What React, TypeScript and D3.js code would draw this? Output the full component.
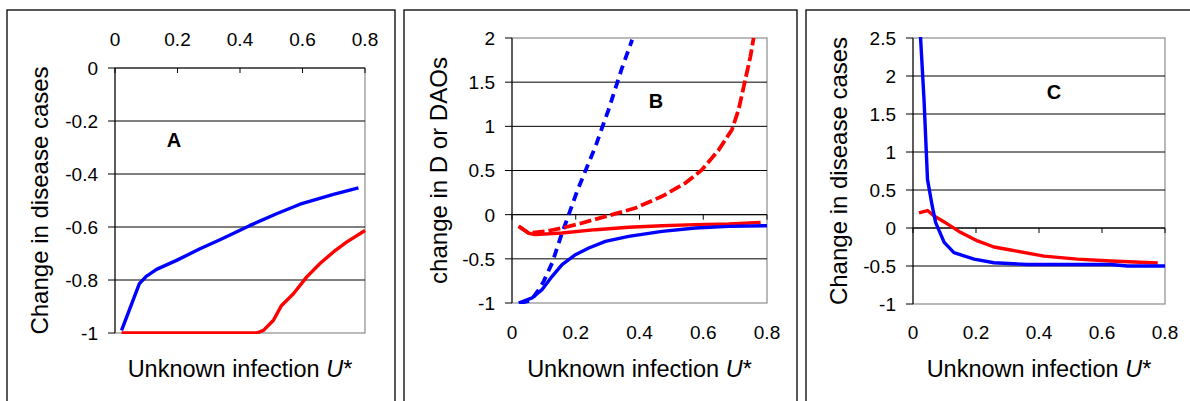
import React from "react"
import * as d3 from "d3"

// panel A: change in disease cases vs unknown infection
const aBlueX = [0.021, 0.078, 0.1, 0.133, 0.197, 0.272, 0.336, 0.432, 0.517, 0.592, 0.699, 0.779]
const aBlueY = [-0.99, -0.814, -0.786, -0.76, -0.726, -0.682, -0.648, -0.594, -0.55, -0.514, -0.477, -0.452]
const aRedX = [0.021, 0.2, 0.4, 0.453, 0.475, 0.507, 0.533, 0.571, 0.613, 0.656, 0.699, 0.741, 0.8]
const aRedY = [-1, -1, -1, -1, -0.99, -0.952, -0.896, -0.852, -0.789, -0.738, -0.694, -0.657, -0.613]

// panel B: change in D or DAOs
const bBlueX = [0.021, 0.063, 0.094, 0.126, 0.157, 0.199, 0.241, 0.293, 0.366, 0.471, 0.575, 0.68, 0.8]
const bBlueY = [-1, -0.943, -0.849, -0.698, -0.566, -0.453, -0.377, -0.302, -0.245, -0.189, -0.151, -0.132, -0.125]
const bBlueDashX = [0.026, 0.06, 0.084, 0.1, 0.126, 0.157, 0.178, 0.204, 0.262, 0.303, 0.345, 0.377]
const bBlueDashY = [-1, -0.97, -0.85, -0.75, -0.547, -0.208, 0, 0.264, 0.774, 1.19, 1.66, 1.98]
const bRedX = [0.021, 0.052, 0.073, 0.157, 0.262, 0.366, 0.471, 0.575, 0.68, 0.78]
const bRedY = [-0.13, -0.21, -0.226, -0.208, -0.17, -0.143, -0.125, -0.113, -0.106, -0.087]
const bRedDashX = [0.021, 0.052, 0.105, 0.157, 0.22, 0.303, 0.387, 0.471, 0.544, 0.596, 0.649, 0.69, 0.711, 0.732, 0.748, 0.758]
const bRedDashY = [-0.132, -0.208, -0.189, -0.151, -0.094, -0.011, 0.075, 0.208, 0.358, 0.509, 0.736, 0.962, 1.19, 1.53, 1.79, 2.0]

// panel C: change in disease cases
const cBlueX = [0.02, 0.035, 0.046, 0.061, 0.072, 0.099, 0.13, 0.194, 0.257, 0.363, 0.469, 0.628, 0.681, 0.8]
const cBlueY = [2.8, 1.69, 0.64, 0.29, 0.07, -0.19, -0.325, -0.41, -0.457, -0.48, -0.48, -0.48, -0.5, -0.5]
const cRedX = [0.019, 0.046, 0.067, 0.099, 0.152, 0.205, 0.257, 0.31, 0.416, 0.522, 0.628, 0.777]
const cRedY = [0.2, 0.23, 0.16, 0.08, -0.06, -0.17, -0.25, -0.29, -0.37, -0.41, -0.435, -0.46]

const xTicks = [0, 0.2, 0.4, 0.6, 0.8]
const aYTicks = [0, -0.2, -0.4, -0.6, -0.8, -1]
const bYTicks = [2, 1.5, 1, 0.5, 0, -0.5, -1]
const cYTicks = [2.5, 2, 1.5, 1, 0.5, 0, -0.5, -1]

const FONT = "'Liberation Sans', Arial, sans-serif"
const BLUE = "#0000ff"
const RED = "#ff0000"

const zip = (xs, ys) => xs.map((x, i) => [x, ys[i]])
const fmt = v => String(+v.toFixed(2))

function Panel({ id, box, plot, yDomain, yTicks, topAxis, yTitle, yTitleX, letter, letterPos, series }) {
  const x = d3.scaleLinear().domain([0, 0.8]).range([plot.l, plot.r])
  const y = d3.scaleLinear().domain(yDomain).range([plot.b, plot.t])
  const line = d3.line().x(d => x(d[0])).y(d => y(d[1]))
  const axisY = topAxis ? plot.t : y(0)
  const yMid = (plot.t + plot.b) / 2

  return (
    <g>
      <rect x={box.x} y={box.y} width={box.w} height={box.h} fill="white" stroke="#000" strokeWidth={1.3} />
      <defs>
        <clipPath id={"clip" + id}>
          <rect x={plot.l} y={plot.t - 1} width={plot.r - plot.l + 2} height={plot.b - plot.t + 2} />
        </clipPath>
      </defs>
      {/* plot frame */}
      <rect x={plot.l} y={plot.t} width={plot.r - plot.l} height={plot.b - plot.t} fill="none" stroke="#8c8c8c" strokeWidth={1.2} />
      {/* gridlines */}
      {yTicks.filter(t => y(t) > plot.t + 1 && y(t) < plot.b - 1).map(t => (
        <line key={t} x1={plot.l} x2={plot.r} y1={y(t)} y2={y(t)} stroke="#000" strokeWidth={1} />
      ))}
      {/* y axis */}
      <line x1={plot.l} x2={plot.l} y1={plot.t} y2={plot.b} stroke="#000" strokeWidth={1} />
      {yTicks.map(t => (
        <g key={"yt" + t}>
          <line x1={plot.l - 7} x2={plot.l} y1={y(t)} y2={y(t)} stroke="#000" strokeWidth={1} />
          <text x={plot.l - 17} y={y(t)} dy="0.36em" textAnchor="end" fontSize={19} fontFamily={FONT}>{fmt(t)}</text>
        </g>
      ))}
      {/* x axis */}
      <line x1={plot.l} x2={plot.r} y1={axisY} y2={axisY} stroke="#000" strokeWidth={1} />
      {xTicks.map(t => (
        <g key={"xt" + t}>
          <line x1={x(t)} x2={x(t)} y1={axisY} y2={axisY + 5} stroke="#000" strokeWidth={1} />
          <text x={x(t)} y={topAxis ? 45.5 : 339} textAnchor="middle" fontSize={19} fontFamily={FONT}>{fmt(t)}</text>
        </g>
      ))}
      <g clipPath={`url(#clip${id})`}>
        {series.map((s, i) => (
          <path key={i} d={line(s.data)} fill="none" stroke={s.color} strokeWidth={s.dash ? 3.8 : 3.4}
            strokeDasharray={s.dash || null} strokeLinejoin="round" />
        ))}
      </g>
      <text x={letterPos[0]} y={letterPos[1]} textAnchor="middle" fontSize={20} fontWeight="bold" fontFamily={FONT}>{letter}</text>
      <text x={(plot.l + plot.r) / 2} y={377} textAnchor="middle" fontSize={23.5} fontFamily={FONT}>
        Unknown infection <tspan fontStyle="italic">U</tspan>*
      </text>
      <text transform={`translate(${yTitleX},${yMid}) rotate(-90)`} textAnchor="middle" fontSize={24} fontFamily={FONT}>{yTitle}</text>
    </g>
  )
}

export default function App() {
  return (
    <svg width={1190} height={401} style={{ position: "absolute", left: 0, top: 0, background: "white" }}>
      <Panel id="A" box={{ x: 7, y: 10, w: 388, h: 400 }} plot={{ l: 115, r: 365, t: 68, b: 333 }}
        yDomain={[-1, 0]} yTicks={aYTicks} topAxis={true}
        yTitle="Change in disease cases" yTitleX={48} letter="A" letterPos={[174, 147]}
        series={[
          { data: zip(aBlueX, aBlueY), color: BLUE },
          { data: zip(aRedX, aRedY), color: RED },
        ]} />
      <Panel id="B" box={{ x: 404, y: 10, w: 393, h: 400 }} plot={{ l: 512, r: 767, t: 38, b: 303 }}
        yDomain={[-1, 2]} yTicks={bYTicks} topAxis={false}
        yTitle="change in D or DAOs" yTitleX={447} letter="B" letterPos={[656, 108]}
        series={[
          { data: zip(bBlueDashX, bBlueDashY), color: BLUE, dash: "9 6" },
          { data: zip(bRedDashX, bRedDashY), color: RED, dash: "12 4" },
          { data: zip(bRedX, bRedY), color: RED },
          { data: zip(bBlueX, bBlueY), color: BLUE },
        ]} />
      <Panel id="C" box={{ x: 806, y: 10, w: 400, h: 400 }} plot={{ l: 913, r: 1165, t: 38, b: 304 }}
        yDomain={[-1, 2.5]} yTicks={cYTicks} topAxis={false}
        yTitle="Change in disease cases" yTitleX={847} letter="C" letterPos={[1054, 99]}
        series={[
          { data: zip(cRedX, cRedY), color: RED },
          { data: zip(cBlueX, cBlueY), color: BLUE },
        ]} />
    </svg>
  )
}
